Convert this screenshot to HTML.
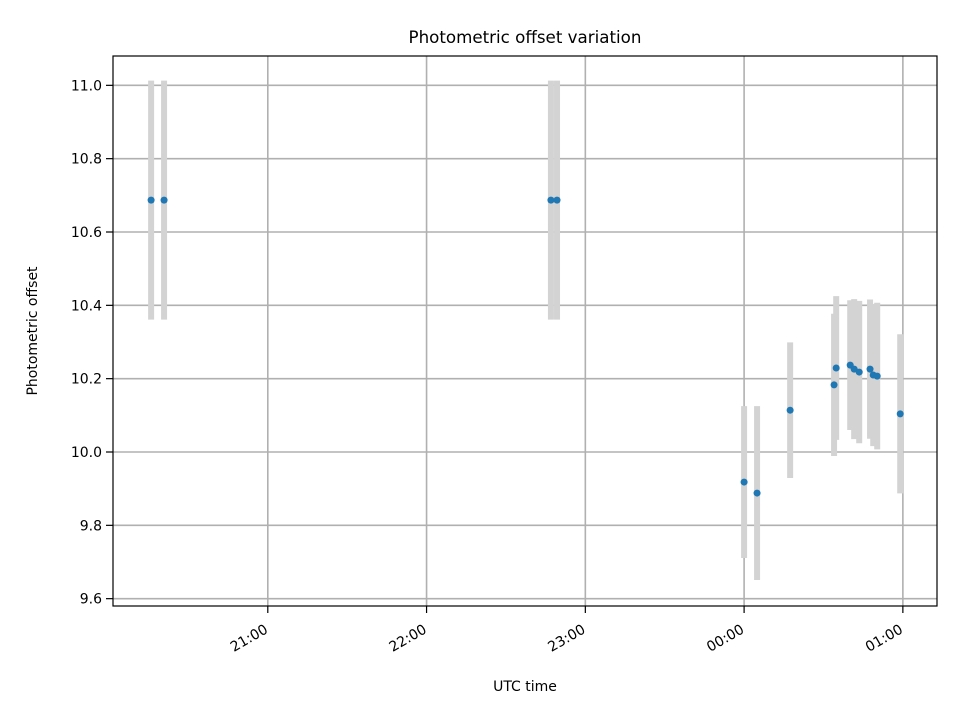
<!DOCTYPE html>
<html><head><meta charset="utf-8"><style>
body{margin:0;background:#fff}
text{font-family:"DejaVu Sans","Liberation Sans",sans-serif;fill:#000}
</style></head><body>
<svg id="chart" width="960" height="720" xmlns="http://www.w3.org/2000/svg">
<text x="525" y="43" font-size="16.7" text-anchor="middle">Photometric offset variation</text>
<g id="grid"></g><g id="bars"></g><g id="dots"></g><g id="axes"></g>
<text x="525" y="691" font-size="14" text-anchor="middle">UTC time</text>
<text transform="translate(37,331) rotate(-90)" font-size="14" text-anchor="middle">Photometric offset</text>
</svg>
<script>
const times=[-224.1,-219.2,-73.0,-70.7,0,4.9,17.4,34.0,34.8,40.1,41.6,43.5,47.6,48.8,50.3,59.0];
const values=[10.687,10.687,10.687,10.687,9.918,9.888,10.114,10.183,10.229,10.237,10.226,10.218,10.226,10.210,10.207,10.104];
const errors=[0.326,0.326,0.326,0.326,0.207,0.237,0.185,0.194,0.196,0.177,0.191,0.194,0.19,0.194,0.2,0.217];
const xTicks=[-180,-120,-60,0,60];
const xTickLabels=["21:00","22:00","23:00","00:00","01:00"];
const yTicks=[9.6,9.8,10.0,10.2,10.4,10.6,10.8,11.0];
const L=113,R=937,T=56,B=606,x0=-238.5,x1=72.9,y0=9.58,y1=11.08;
const X=v=>L+(v-x0)/(x1-x0)*(R-L), Y=v=>B-(v-y0)/(y1-y0)*(B-T);
const NS="http://www.w3.org/2000/svg";
function mk(p,tag,a){const e=document.createElementNS(NS,tag);for(const k in a)e.setAttribute(k,a[k]);document.getElementById(p).appendChild(e);return e;}
xTicks.forEach((t,i)=>{
 const g=mk('grid','line',{x1:X(t),x2:X(t),y1:T,y2:B,stroke:'#b0b0b0','stroke-width':1.6});
 
 const tk=mk('axes','line',{x1:X(t),x2:X(t),y1:B,y2:B+7,stroke:'#000','stroke-width':1.2});
 
 const tx=mk('axes','text',{'font-size':14,'text-anchor':'end',transform:`translate(${X(t)+1},${B+26}) rotate(-30)`});
 tx.textContent=xTickLabels[i];
 
});
yTicks.forEach(v=>{
 const g=mk('grid','line',{x1:L,x2:R,y1:Y(v),y2:Y(v),stroke:'#b0b0b0','stroke-width':1.6});
 
 const tk=mk('axes','line',{x1:L-7,x2:L,y1:Y(v),y2:Y(v),stroke:'#000','stroke-width':1.2});
 
 const tx=mk('axes','text',{x:L-11,y:Y(v)+5,'font-size':14,'text-anchor':'end'});
 tx.textContent=v.toFixed(1);
 
});
times.forEach((t,i)=>{
 const b=mk('bars','line',{x1:X(t),x2:X(t),y1:Y(values[i]-errors[i]),y2:Y(values[i]+errors[i]),stroke:'#d3d3d3','stroke-width':6});
 
 const d=mk('dots','circle',{cx:X(t),cy:Y(values[i]),r:3.5,fill:'#1f77b4'});
 
});
const f=mk('axes','rect',{x:L,y:T,width:R-L,height:B-T,fill:'none',stroke:'#000','stroke-width':1.2});

</script>
</body></html>
